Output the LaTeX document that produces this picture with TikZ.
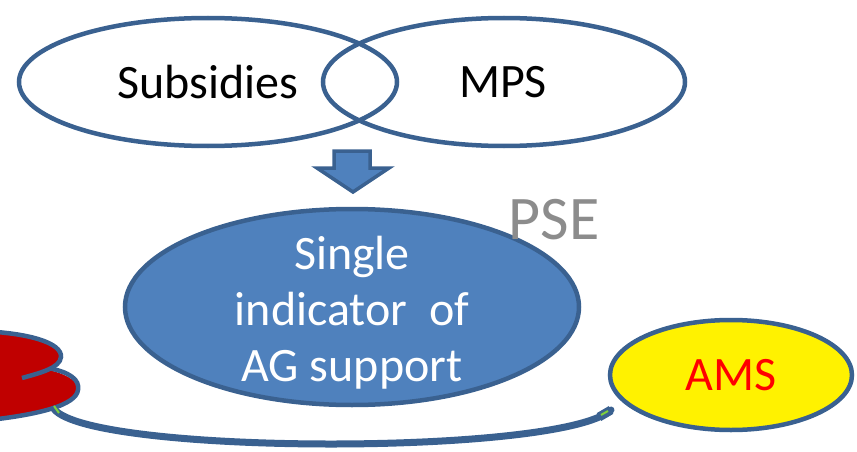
\documentclass[tikz,border=0pt]{standalone}
\usepackage{fontspec}
\setmainfont{Carlito}
\usepackage{tikz}
\usetikzlibrary{shapes.geometric}
\definecolor{accfill}{HTML}{4F81BD}
\definecolor{accline}{HTML}{3A6190}
\definecolor{amsred}{HTML}{FF0000}
\definecolor{lobered}{HTML}{C00000}
\definecolor{psegray}{HTML}{8C8C8C}
\definecolor{tipgreen}{HTML}{7FD13B}

\begin{document}
\begin{tikzpicture}[x=1pt,y=-1pt,
  oval/.style={draw=accline,ellipse,line width=4.5pt,inner sep=0pt,align=center,
    font=\fontsize{48}{56}\selectfont},
  lbl/.style={align=center,font=\fontsize{48}{56}\selectfont},
  link/.style={draw=accline,line width=7pt,line cap=round}]
\useasboundingbox (0,0) rectangle (857,452);
\clip (0,0) rectangle (857,452);
% two overlapping sources
\node[oval,minimum width=378pt,minimum height=128pt] (subs) at (208,82) {};
\node[oval,minimum width=362pt,minimum height=128pt] (mps) at (504,82) {};
\node[lbl] (subslbl) at (208,82) {Subsidies};
\node[lbl] (mpslbl) at (503,82) {MPS};
% block arrow down
\filldraw[fill=accfill,draw=accline,line width=3.5pt,line join=miter]
  (334,151)--(370,151)--(370,168)--(389,168)--(353,192)--(317,168)--(334,168)--cycle;
% aggregate
\node[oval,fill=accfill,minimum width=454pt,minimum height=196pt] (psenode) at (352,307) {};
\node[lbl,text=white] (pselines) at (352,313) {Single\\ indicator\ \ of\\ AG support};
\node[text=psegray,font=\fontsize{62}{66}\selectfont] (pselbl) at (554,220) {PSE};
% AMS
\node[oval,fill=yellow,minimum width=242pt,minimum height=110pt] (ams) at (731,375) {};
\node[lbl,text=amsred] (amslbl) at (731,375) {AMS};
% red shape at the left edge
\fill[lobered] (-20,366) .. controls (40,362) and (80,375) .. (78,390)
  .. controls (76,405) and (40,415) .. (-20,421) -- cycle;
\draw[accline,line width=4.5pt] (48,368) .. controls (70,372) and (80,380) .. (78,390)
  .. controls (76,405) and (40,415) .. (-20,421);
\fill[lobered] (-20,331) .. controls (30,333) and (62,343) .. (61,357)
  .. controls (60,368) and (40,373) .. (22,378) -- (-20,382) -- cycle;
\draw[accline,line width=4.5pt] (-20,331) .. controls (30,333) and (62,343) .. (61,357)
  .. controls (60,368) and (40,373) .. (22,378);
\coordinate (redend) at (54,409);
\coordinate (amsend) at (611,410);
% link between red shape and AMS
\draw[link] (redend) .. controls (90,455) and (560,456) .. (amsend);
\draw[accline,line width=9pt] (599,417) -- (amsend);
\draw[tipgreen,line width=2pt] (601,415) -- (608,411);
\draw[tipgreen,line width=2pt] (54,406) -- (59,413);
\end{tikzpicture}
\end{document}
